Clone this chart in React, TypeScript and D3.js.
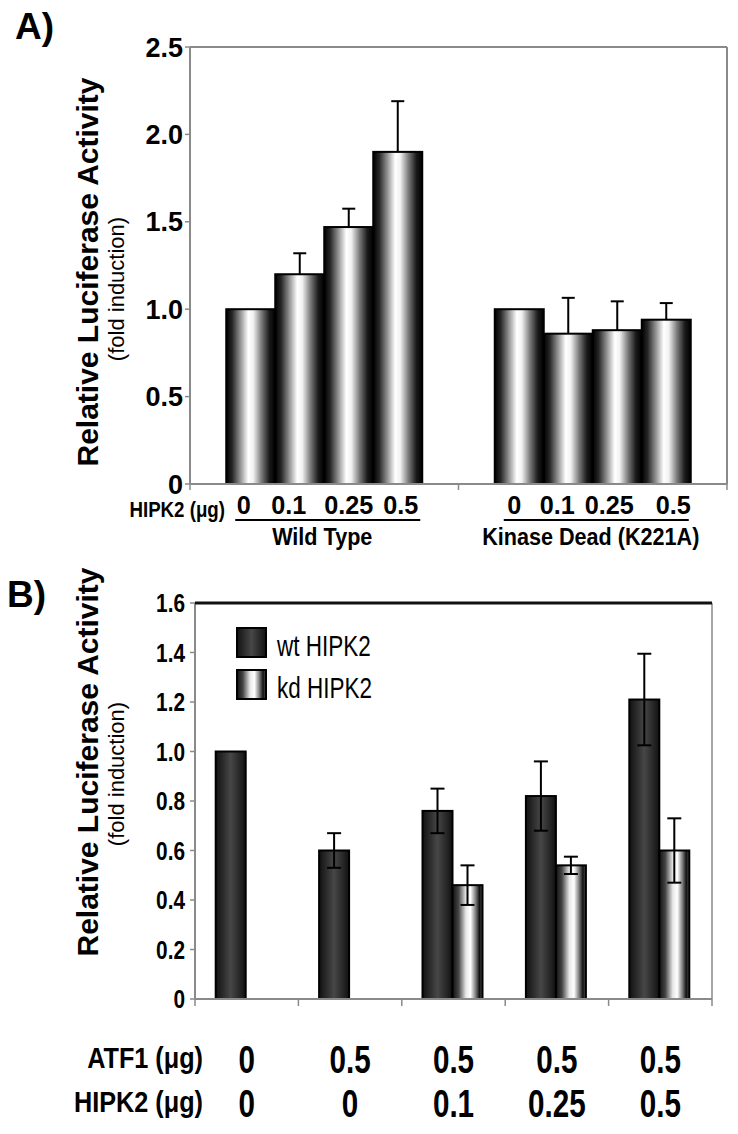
import React from "react";
import * as d3 from "d3";

// ---------- data ----------
const groupsA = ["Wild Type", "Kinase Dead (K221A)"];
const dosesA = ["0", "0.1", "0.25", "0.5"];
const wildTypeA = [1.0, 1.2, 1.47, 1.9];
const wildTypeAErr = [0, 0.12, 0.105, 0.29];
const kinaseDeadA = [1.0, 0.86, 0.88, 0.94];
const kinaseDeadAErr = [0, 0.205, 0.165, 0.095];
const ticksA = [0, 0.5, 1.0, 1.5, 2.0, 2.5];

const seriesB = ["wt HIPK2", "kd HIPK2"];
const atf1B = ["0", "0.5", "0.5", "0.5", "0.5"];
const hipk2B = ["0", "0", "0.1", "0.25", "0.5"];
const wtB = [1.0, 0.6, 0.76, 0.82, 1.21];
const wtBErr = [0, 0.07, 0.09, 0.14, 0.185];
const kdB: (number | null)[] = [null, null, 0.46, 0.54, 0.6];
const kdBErr = [0, 0, 0.08, 0.035, 0.13];
const ticksB = [0, 0.2, 0.4, 0.6, 0.8, 1.0, 1.2, 1.4, 1.6];

const ARIAL = "'Liberation Sans', Arial, Helvetica, sans-serif";
const GRAY = "#8a8a8a";

// label nudges (layout only) for the dose labels under panel A
const doseNudgeA = [
  [-7, -11, 0, 3],
  [-5, -11, -8, 7],
];

function T(props: {
  x: number;
  y: number;
  sx?: number;
  size: number;
  bold?: boolean;
  anchor?: "start" | "middle" | "end";
  rotate?: number;
  children: React.ReactNode;
}) {
  const { x, y, sx = 1, size, bold, anchor = "start", rotate = 0, children } = props;
  return (
    <text
      transform={`translate(${x},${y}) rotate(${rotate}) scale(${sx},1)`}
      textAnchor={anchor}
      fontFamily={ARIAL}
      fontWeight={bold ? "bold" : "normal"}
      fontSize={size}
      fill="#000"
    >
      {children}
    </text>
  );
}

export default function App() {
  // ---------- panel A ----------
  const aL = 190, aR = 727, aT = 47, aB = 484;
  const yA = d3.scaleLinear().domain([0, 2.5]).range([aB, aT]);
  const xA = d3.scaleBand().domain(groupsA).range([aL, aR]);
  const innerW = 196;
  const xA1 = d3
    .scaleBand()
    .domain(dosesA)
    .range([(xA.bandwidth() - innerW) / 2, (xA.bandwidth() + innerW) / 2]);
  const seriesA = [
    { g: groupsA[0], v: wildTypeA, e: wildTypeAErr },
    { g: groupsA[1], v: kinaseDeadA, e: kinaseDeadAErr },
  ];

  // ---------- panel B ----------
  const bL = 195, bR = 712, bT = 603, bB = 999;
  const yB = d3.scaleLinear().domain([0, 1.6]).range([bB, bT]);
  const idxB = atf1B.map((_, i) => String(i));
  const xB = d3.scaleBand().domain(idxB).range([bL, bR]);
  const pairW = 60;
  const xB1 = d3
    .scaleBand()
    .domain(seriesB)
    .range([(xB.bandwidth() - pairW) / 2 - 1, (xB.bandwidth() + pairW) / 2 - 1]);
  const fmt = (t: number) => (t === 0 ? "0" : t.toFixed(1));

  return (
    <svg
      width={738}
      height={1134}
      style={{ position: "absolute", left: 0, top: 0, background: "#fff" }}
    >
      <defs>
        <linearGradient id="cyl" x1="0" x2="1" y1="0" y2="0">
          <stop offset="0" stopColor="#000" />
          <stop offset="0.12" stopColor="#262626" />
          <stop offset="0.3" stopColor="#9a9a9a" />
          <stop offset="0.45" stopColor="#ffffff" />
          <stop offset="0.55" stopColor="#f2f2f2" />
          <stop offset="0.72" stopColor="#7a7a7a" />
          <stop offset="0.88" stopColor="#1a1a1a" />
          <stop offset="1" stopColor="#000" />
        </linearGradient>
        <linearGradient id="dark" x1="0" x2="1" y1="0" y2="0">
          <stop offset="0" stopColor="#111" />
          <stop offset="0.5" stopColor="#474747" />
          <stop offset="1" stopColor="#111" />
        </linearGradient>
        <linearGradient id="kd" x1="0" x2="1" y1="0" y2="0">
          <stop offset="0" stopColor="#111" />
          <stop offset="0.2" stopColor="#444" />
          <stop offset="0.45" stopColor="#e8e8e8" />
          <stop offset="0.6" stopColor="#ffffff" />
          <stop offset="0.78" stopColor="#777" />
          <stop offset="0.9" stopColor="#111" />
          <stop offset="1" stopColor="#555" />
        </linearGradient>
      </defs>

      {/* ================= PANEL A ================= */}
      <T x={15} y={39} size={37} bold>
        A)
      </T>
      <line x1={aL} x2={aR} y1={aT} y2={aT} stroke={GRAY} strokeWidth={2} />
      <line x1={aR} x2={aR} y1={aT} y2={aB} stroke={GRAY} strokeWidth={2} />
      <line x1={aL} x2={aL} y1={aT} y2={aB} stroke={GRAY} strokeWidth={2} />
      {ticksA.map((t) => (
        <g key={t}>
          <line x1={aL - 5} x2={aL} y1={yA(t)} y2={yA(t)} stroke={GRAY} strokeWidth={1.5} />
          <T x={183} y={yA(t) + 9.5} size={27} bold anchor="end">
            {fmt(t)}
          </T>
        </g>
      ))}
      {seriesA.map((s) => (
        <g key={s.g} transform={`translate(${xA(s.g)},0)`}>
          {s.v.map((v, i) => {
            const x = xA1(dosesA[i])!;
            const w = xA1.bandwidth();
            return (
              <g key={i}>
                {s.e[i] > 0 && (
                  <g stroke="#000" strokeWidth={2}>
                    <line x1={x + w / 2} x2={x + w / 2} y1={yA(v)} y2={yA(v + s.e[i])} />
                    <line
                      x1={x + w / 2 - 6.5}
                      x2={x + w / 2 + 6.5}
                      y1={yA(v + s.e[i])}
                      y2={yA(v + s.e[i])}
                    />
                  </g>
                )}
                <rect
                  x={x}
                  y={yA(v)}
                  width={w}
                  height={yA(0) - yA(v)}
                  fill="url(#cyl)"
                  stroke="#000"
                  strokeWidth={2}
                />
              </g>
            );
          })}
        </g>
      ))}
      <line x1={aL} x2={aR} y1={aB} y2={aB} stroke={GRAY} strokeWidth={2} />
      {[aL, ...groupsA.map((g) => xA(g)! + xA.bandwidth())].map((x, i) => (
        <line key={i} x1={x} x2={x} y1={aB} y2={aB + 6} stroke={GRAY} strokeWidth={1.5} />
      ))}
      <T x={225} y={517} size={22} sx={0.85} bold anchor="end">
        HIPK2 (μg)
      </T>
      {groupsA.map((g, gi) => {
        const x0 = xA(g)!;
        const first = x0 + xA1(dosesA[0])!;
        const last = x0 + xA1(dosesA[dosesA.length - 1])! + xA1.bandwidth();
        return (
          <g key={g}>
            {dosesA.map((d, di) => (
              <T
                key={d}
                x={x0 + xA1(d)! + xA1.bandwidth() / 2 + doseNudgeA[gi][di]}
                y={514}
                size={26}
                sx={0.97}
                bold
                anchor="middle"
              >
                {d}
              </T>
            ))}
            <line x1={first + 9} x2={last - 2} y1={520} y2={520} stroke="#000" strokeWidth={2} />
            <T x={(first + last) / 2 - 2} y={545} size={24} sx={0.9} bold anchor="middle">
              {g}
            </T>
          </g>
        );
      })}
      <T x={98} y={272} size={30} bold anchor="middle" rotate={-90}>
        Relative Luciferase Activity
      </T>
      <T x={124} y={289} size={22} anchor="middle" rotate={-90}>
        (fold induction)
      </T>

      {/* ================= PANEL B ================= */}
      <T x={7} y={607} size={37} bold>
        B)
      </T>
      <line x1={bL} x2={bL} y1={bT} y2={bB} stroke={GRAY} strokeWidth={2} />
      <line x1={bR} x2={bR} y1={bT} y2={bB} stroke={GRAY} strokeWidth={1.5} />
      {ticksB.map((t) => (
        <g key={t}>
          <line x1={bL - 5} x2={bL} y1={yB(t)} y2={yB(t)} stroke={GRAY} strokeWidth={1.5} />
          <T x={185} y={yB(t) + 9} size={26} sx={0.8} bold anchor="end">
            {fmt(t)}
          </T>
        </g>
      ))}
      {idxB.map((c, i) => {
        const x0 = xB(c)!;
        const w = xB1.bandwidth();
        const bars = [
          { s: seriesB[0], v: wtB[i], e: wtBErr[i], fill: "url(#dark)" },
          { s: seriesB[1], v: kdB[i], e: kdBErr[i], fill: "url(#kd)" },
        ];
        return (
          <g key={c}>
            {bars.map((b) => {
              if (b.v == null) return null;
              const bx = x0 + xB1(b.s)!;
              const cx = bx + w / 2;
              return (
                <g key={b.s}>
                  <rect
                    x={bx}
                    y={yB(b.v)}
                    width={w}
                    height={yB(0) - yB(b.v)}
                    fill={b.fill}
                    stroke="#000"
                    strokeWidth={2}
                  />
                  {b.e > 0 && (
                    <g stroke="#000" strokeWidth={2}>
                      <line x1={cx} x2={cx} y1={yB(b.v - b.e)} y2={yB(b.v + b.e)} />
                      <line x1={cx - 7} x2={cx + 7} y1={yB(b.v + b.e)} y2={yB(b.v + b.e)} />
                      <line x1={cx - 7} x2={cx + 7} y1={yB(b.v - b.e)} y2={yB(b.v - b.e)} />
                    </g>
                  )}
                </g>
              );
            })}
          </g>
        );
      })}
      <line x1={bL} x2={bR} y1={bT} y2={bT} stroke="#111" strokeWidth={3} />
      <line x1={bL} x2={bR} y1={bB} y2={bB} stroke={GRAY} strokeWidth={2} />
      {[bL, ...idxB.map((c) => xB(c)! + xB.bandwidth())].map((x, i) => (
        <line key={i} x1={x} x2={x} y1={bB} y2={bB + 7} stroke={GRAY} strokeWidth={1.5} />
      ))}
      {seriesB.map((s, i) => (
        <g key={s}>
          <rect
            x={237}
            y={628 + i * 42}
            width={29}
            height={29}
            fill={i === 0 ? "url(#dark)" : "url(#kd)"}
            stroke="#000"
            strokeWidth={2}
          />
          <T x={277} y={656 + i * 42} size={30} sx={0.75}>
            {s}
          </T>
        </g>
      ))}
      <T x={203} y={1068} size={29} sx={0.87} bold anchor="end">
        ATF1 (μg)
      </T>
      <T x={203} y={1112} size={29} sx={0.87} bold anchor="end">
        HIPK2 (μg)
      </T>
      {idxB.map((c, i) => (
        <g key={c}>
          <T x={xB(c)! + xB.bandwidth() / 2} y={1073} size={38} sx={0.78} bold anchor="middle">
            {atf1B[i]}
          </T>
          <T x={xB(c)! + xB.bandwidth() / 2} y={1117} size={38} sx={0.78} bold anchor="middle">
            {hipk2B[i]}
          </T>
        </g>
      ))}
      <T x={98} y={762} size={30} bold anchor="middle" rotate={-90}>
        Relative Luciferase Activity
      </T>
      <T x={124} y={774} size={22} anchor="middle" rotate={-90}>
        (fold induction)
      </T>
    </svg>
  );
}
